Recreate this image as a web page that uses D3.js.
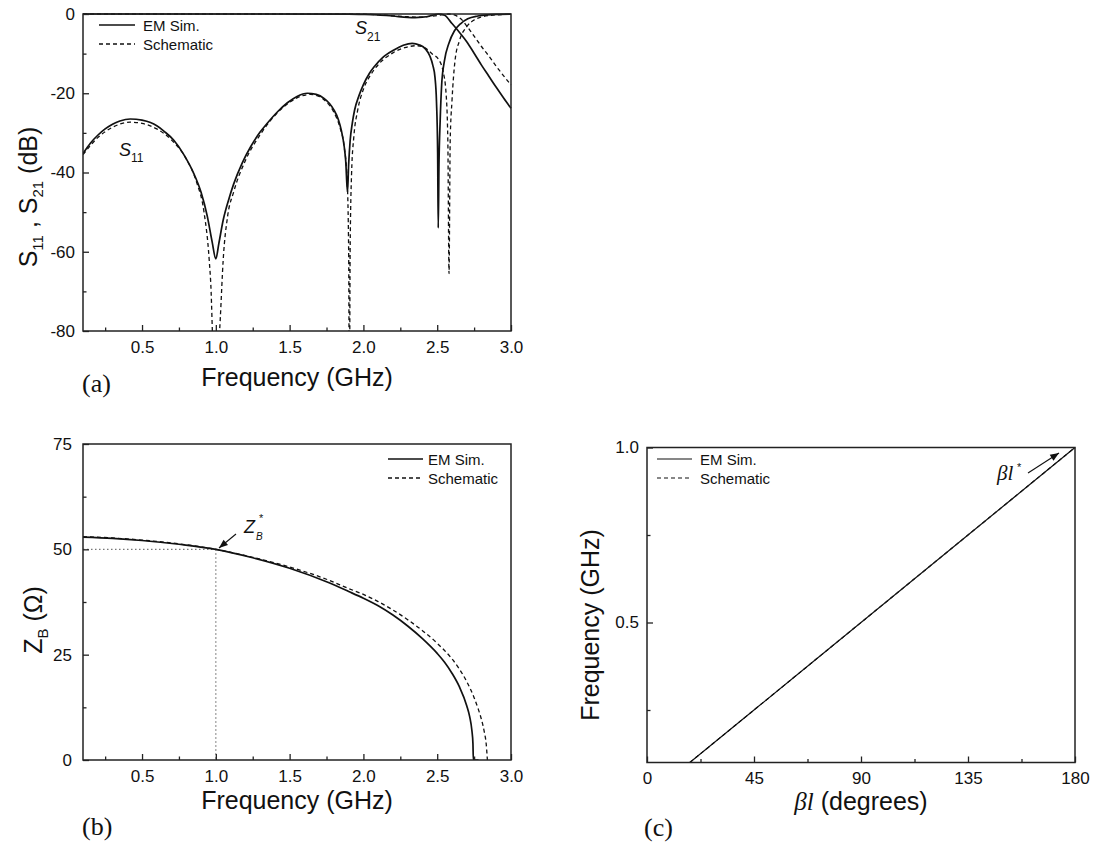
<!DOCTYPE html>
<html><head><meta charset="utf-8">
<script src="https://cdn.jsdelivr.net/npm/d3@7"></script>
<style>
body{margin:0;background:#fff}
#chart{font-family:"Liberation Sans",Arial,sans-serif}
text{fill:#111}
</style>
</head><body>
<svg id="chart" width="1097" height="848"></svg>
<script>
// ---------- Panel (a) data: S11 / S21 (dB) vs frequency (GHz) ----------
const emS11Freq = [0.1,0.15,0.2,0.25,0.3,0.35,0.42,0.5,0.557,0.6,0.65,0.714,0.78,0.85,0.9,0.942,0.975,1.0,1.02,1.05,1.09,1.12,1.18,1.236,1.3,1.35,1.42,1.485,1.55,1.62,1.68,1.733,1.77,1.8,1.83,1.85,1.87,1.88,1.892,1.9,1.91,1.925,1.94,1.97,2.0,2.04,2.073,2.13,2.21,2.27,2.33,2.38,2.42,2.45,2.47,2.485,2.495,2.503,2.507,2.512,2.52,2.53,2.548,2.58,2.616,2.66,2.707,2.775,2.84,2.92,3.0];
const emS11dB = [-35.2,-32.6,-30.6,-29.0,-27.8,-27.0,-26.5,-26.8,-27.4,-28.2,-29.6,-31.8,-35.3,-40.2,-45,-51,-57.5,-61.8,-58,-52,-46.5,-43,-37.5,-33.5,-29.8,-27.5,-24.6,-22.4,-20.8,-20.0,-20.3,-21.3,-22.6,-24.2,-26.6,-29.3,-33.5,-37,-45,-38,-32,-27.5,-24.3,-20.6,-17.8,-15.0,-13.3,-11,-9.0,-7.9,-7.4,-7.8,-8.8,-10.6,-12.9,-16,-22,-35,-54,-38,-27,-18,-12,-7.3,-4.3,-2.4,-1.2,-0.5,-0.2,-0.08,-0.03];
const schS11Freq = [0.1,0.2,0.3,0.42,0.5,0.6,0.7,0.8,0.87,0.92,0.955,0.968,0.978,1.0,1.02,1.03,1.05,1.08,1.12,1.2,1.3,1.4,1.5,1.58,1.64,1.7,1.75,1.8,1.84,1.87,1.89,1.9,1.905,1.91,1.92,1.935,1.96,2.0,2.05,2.1,2.2,2.28,2.36,2.42,2.47,2.51,2.54,2.56,2.572,2.58,2.588,2.6,2.62,2.65,2.7,2.75,2.8,2.85,2.9,3.0];
const schS11dB = [-35.5,-31.2,-28.6,-27.3,-27.6,-29.0,-31.8,-36.6,-42.5,-50,-62,-70,-82,-110,-84,-77,-62,-51,-45,-37,-30.5,-25.6,-22.3,-20.7,-20.3,-20.8,-22.2,-24.8,-28.5,-33.5,-42,-60,-100,-60,-40,-31,-24.5,-19,-15.3,-12.8,-9.8,-8.5,-8.0,-8.6,-10.2,-11.5,-14.5,-20,-32,-65.5,-32,-22,-12,-6.8,-3.2,-1.5,-0.75,-0.4,-0.22,-0.08];
const emS21Freq = [0.1,1.9,2.0,2.1,2.2,2.3,2.35,2.4,2.45,2.48,2.507,2.55,2.6,2.65,2.7,2.75,2.8,2.85,2.9,2.95,3.0];
const emS21dB = [0,-0.01,-0.07,-0.2,-0.5,-0.85,-0.9,-0.8,-0.5,-0.2,0,-0.3,-2.4,-4.6,-7.0,-9.9,-12.9,-15.7,-18.5,-21.2,-23.8];
const schS21Freq = [0.1,1.9,2.0,2.1,2.2,2.3,2.38,2.45,2.52,2.58,2.62,2.66,2.7,2.75,2.8,2.85,2.9,2.95,3.0];
const schS21dB = [0,-0.01,-0.06,-0.2,-0.45,-0.7,-0.8,-0.6,-0.3,0,-0.3,-1.2,-3.0,-5.6,-8.2,-10.6,-13.2,-15.6,-17.9];

// ---------- Panel (b) data: Z_B (ohm) vs frequency ----------
const zbFreqEM = [0.1,0.3,0.5,0.75,1.0,1.25,1.5,1.75,1.9,2.0,2.1,2.2,2.3,2.4,2.5,2.55,2.6,2.65,2.7,2.72,2.735,2.742,2.745,2.78];
const zbEM = [52.9,52.6,52.1,51.2,50.0,48.0,45.5,42.3,40.0,38.4,36.6,34.4,31.8,28.8,25.3,23.2,20.6,17.4,12.9,10.3,7.0,4.0,0,0];
const zbFreqSch = [0.1,0.3,0.5,0.75,1.0,1.25,1.5,1.75,1.9,2.0,2.1,2.2,2.3,2.4,2.5,2.6,2.65,2.7,2.75,2.78,2.8,2.82,2.832,2.84];
const zbSch = [53.0,52.7,52.2,51.3,50.0,48.1,45.8,42.9,40.7,39.3,37.6,35.6,33.3,30.7,27.7,24.0,21.6,18.6,14.8,11.9,9.6,6.5,3.8,0];

// ---------- Panel (c) data: frequency vs electrical length ----------
const betaEM = [18,45,90,135,180];
const freqEM = [0.1,0.25,0.5,0.75,1.0];
const betaSch = [18,45,90,135,180];
const freqSch = [0.1,0.25,0.5,0.75,1.0];

// ---------- ticks ----------
const freqMajor = [0.5,1.0,1.5,2.0,2.5,3.0];
const freqMinor = [0.25,0.75,1.25,1.75,2.25,2.75];
const dbMajor = [0,-20,-40,-60,-80];
const dbMinor = [-10,-30,-50,-70];
const zbMajor = [0,25,50,75];
const zbMinor = [12.5,37.5,62.5];
const degMajor = [0,45,90,135,180];
const degMinor = [22.5,67.5,112.5,157.5];
const fcMajor = [0.5,1.0];
const fcMinor = [0.25,0.75];

const SERIF = "Liberation Serif, Times New Roman, serif";
const svg = d3.select("#chart");
const defs = svg.append("defs");
defs.append("marker").attr("id","ah").attr("viewBox","0 0 10 10").attr("refX",10).attr("refY",5)
  .attr("markerWidth",9).attr("markerHeight",8).attr("orient","auto")
  .append("path").attr("d","M0,1 L10,5 L0,9 z").attr("fill","#111");

const xA = d3.scaleLinear([0.1,3.0],[83,511]);
const yA = d3.scaleLinear([-80,0],[331,14]);
const xB = d3.scaleLinear([0.1,3.0],[83,511]);
const yB = d3.scaleLinear([0,75],[760,444]);
const xC = d3.scaleLinear([0,180],[647,1075]);
const yC = d3.scaleLinear([0.1,1.0],[762.5,447.5]);

let clipN = 0;
function clip(x, y) {
  const id = "clip" + (clipN++);
  defs.append("clipPath").attr("id", id).append("rect")
    .attr("x", x.range()[0]).attr("y", y.range()[1]-3)
    .attr("width", x.range()[1]-x.range()[0]+2).attr("height", y.range()[0]-y.range()[1]+3);
  return svg.append("g").attr("clip-path", `url(#${id})`);
}
function series(g, x, y, xs, ys, dashed, sw) {
  const pts = xs.map((v,i)=>[v, ys[i]]);
  g.append("path").datum(pts)
    .attr("d", d3.line().x(d=>x(d[0])).y(d=>y(d[1])).curve(d3.curveMonotoneX))
    .attr("fill","none").attr("stroke","#111")
    .attr("stroke-width", sw)
    .attr("stroke-dasharray", dashed ? "4,3" : null);
}
function styleAxis(g) {
  g.select(".domain").remove();
  g.selectAll(".tick line").attr("stroke","#222").attr("stroke-width",1.3);
  g.attr("font-size",null).attr("font-family",null);
  g.selectAll("text").attr("font-size",17).attr("fill","#111");
}
function axes(x, y, xMaj, xMin, yMaj, yMin, xfmt, yfmt, ypad) {
  const b = y.range()[0], l = x.range()[0];
  svg.append("g").attr("transform",`translate(0,${b})`)
    .call(d3.axisBottom(x).tickValues(xMin).tickSize(-3.5).tickFormat("")).call(styleAxis);
  svg.append("g").attr("transform",`translate(0,${b})`)
    .call(d3.axisBottom(x).tickValues(xMaj).tickSize(-6).tickPadding(9.5).tickFormat(xfmt)).call(styleAxis);
  svg.append("g").attr("transform",`translate(${l},0)`)
    .call(d3.axisLeft(y).tickValues(yMin).tickSize(-3.5).tickFormat("")).call(styleAxis);
  svg.append("g").attr("transform",`translate(${l},0)`)
    .call(d3.axisLeft(y).tickValues(yMaj).tickSize(-6).tickPadding(ypad).tickFormat(yfmt)).call(styleAxis);
}
function frame(x, y) {
  svg.append("rect").attr("x", x.range()[0]).attr("y", y.range()[1])
    .attr("width", x.range()[1]-x.range()[0]).attr("height", y.range()[0]-y.range()[1])
    .attr("fill","none").attr("stroke","#222").attr("stroke-width",1.5);
}
function legend(x0, x1, y0, tx, sw) {
  const rows = [["EM Sim.", false], ["Schematic", true]];
  rows.forEach((r,i)=>{
    const yy = y0 + i*19;
    svg.append("line").attr("x1",x0).attr("x2",x1).attr("y1",yy).attr("y2",yy)
      .attr("stroke","#111").attr("stroke-width",sw).attr("stroke-dasharray", r[1] ? "4,3" : null);
    svg.append("text").attr("x",tx).attr("y",yy+5.5).attr("font-size",15).text(r[0]);
  });
}
const fmt1 = d3.format(".1f");
const fmtInt = d => String(d);

// ================= Panel (a) =================
{
  const g = clip(xA, yA);
  series(g, xA, yA, emS21Freq, emS21dB, false, 1.7);
  series(g, xA, yA, schS21Freq, schS21dB, true, 1.3);
  series(g, xA, yA, emS11Freq, emS11dB, false, 1.7);
  series(g, xA, yA, schS11Freq, schS11dB, true, 1.3);
  axes(xA, yA, freqMajor, freqMinor, dbMajor, dbMinor, fmt1, fmtInt, 8);
  frame(xA, yA);
  legend(99, 135, 25, 143, 1.7);
  const s11 = svg.append("text").attr("x",119).attr("y",156).attr("font-size",18);
  s11.append("tspan").attr("font-style","italic").text("S");
  s11.append("tspan").attr("font-size",12).attr("dy",6).text("11");
  const s21 = svg.append("text").attr("x",355).attr("y",34).attr("font-size",18);
  s21.append("tspan").attr("font-style","italic").text("S");
  s21.append("tspan").attr("font-size",12).attr("dy",7).text("21");
  const yt = svg.append("text").attr("transform","translate(37,197) rotate(-90)")
    .attr("text-anchor","middle").attr("font-size",25);
  yt.append("tspan").text("S");
  yt.append("tspan").attr("font-size",15).attr("dy",6).text("11");
  yt.append("tspan").attr("dy",-6).text(" , S");
  yt.append("tspan").attr("font-size",15).attr("dy",6).text("21");
  yt.append("tspan").attr("dy",-6).text(" (dB)");
  svg.append("text").attr("x",(xA.range()[0]+xA.range()[1])/2).attr("y",386)
    .attr("text-anchor","middle").attr("font-size",25).text("Frequency (GHz)");
  svg.append("text").attr("x",82).attr("y",392).attr("font-size",26)
    .attr("font-family",SERIF).text("(a)");
}

// ================= Panel (b) =================
{
  svg.append("line").attr("x1",xB(0.1)).attr("x2",xB(1.0)).attr("y1",yB(50)).attr("y2",yB(50))
    .attr("stroke","#777").attr("stroke-width",1.2).attr("stroke-dasharray","1.5,2.5");
  svg.append("line").attr("x1",xB(1.0)).attr("x2",xB(1.0)).attr("y1",yB(50)).attr("y2",yB(0))
    .attr("stroke","#777").attr("stroke-width",1.2).attr("stroke-dasharray","1.5,2.5");
  const g = clip(xB, yB);
  series(g, xB, yB, zbFreqSch, zbSch, true, 1.3);
  series(g, xB, yB, zbFreqEM, zbEM, false, 1.7);
  axes(xB, yB, freqMajor, freqMinor, zbMajor, zbMinor, fmt1, fmtInt, 11);
  frame(xB, yB);
  legend(388, 423, 459, 428, 1.7);
  svg.append("line").attr("x1",236).attr("y1",534).attr("x2",219).attr("y2",548)
    .attr("stroke","#111").attr("stroke-width",1.1).attr("marker-end","url(#ah)");
  svg.append("text").attr("x",244).attr("y",533).attr("font-size",18).attr("font-style","italic").text("Z");
  svg.append("text").attr("x",256).attr("y",540).attr("font-size",10).attr("font-style","italic").text("B");
  svg.append("text").attr("x",259).attr("y",522).attr("font-size",11).text("*");
  const yt = svg.append("text").attr("transform","translate(42,620) rotate(-90)")
    .attr("text-anchor","middle").attr("font-size",25);
  yt.append("tspan").text("Z");
  yt.append("tspan").attr("font-size",15).attr("dy",6).text("B");
  yt.append("tspan").attr("dy",-6).text(" (Ω)");
  svg.append("text").attr("x",(xB.range()[0]+xB.range()[1])/2).attr("y",809)
    .attr("text-anchor","middle").attr("font-size",25).text("Frequency (GHz)");
  svg.append("text").attr("x",82).attr("y",835).attr("font-size",26)
    .attr("font-family",SERIF).text("(b)");
}

// ================= Panel (c) =================
{
  const g = clip(xC, yC);
  series(g, xC, yC, betaSch, freqSch, true, 1.2);
  series(g, xC, yC, betaEM, freqEM, false, 1.2);
  axes(xC, yC, degMajor, degMinor, fcMajor, fcMinor, fmtInt, fmt1, 8);
  frame(xC, yC);
  legend(657, 692, 459, 700, 1.1);
  svg.append("line").attr("x1",1028).attr("y1",473).attr("x2",1059).attr("y2",453)
    .attr("stroke","#111").attr("stroke-width",1.1).attr("marker-end","url(#ah)");
  svg.append("text").attr("x",997).attr("y",480).attr("font-size",21).attr("font-style","italic")
    .attr("font-family",SERIF).text("βl");
  svg.append("text").attr("x",1017).attr("y",471).attr("font-size",11).text("*");
  svg.append("text").attr("transform","translate(599,625) rotate(-90)")
    .attr("text-anchor","middle").attr("font-size",25).text("Frequency (GHz)");
  const xt = svg.append("text").attr("x",(xC.range()[0]+xC.range()[1])/2).attr("y",810)
    .attr("text-anchor","middle").attr("font-size",25);
  xt.append("tspan").attr("font-style","italic").attr("font-family",SERIF).text("βl");
  xt.append("tspan").text(" (degrees)");
  svg.append("text").attr("x",644).attr("y",836).attr("font-size",26)
    .attr("font-family",SERIF).text("(c)");
}
</script>
</body></html>
